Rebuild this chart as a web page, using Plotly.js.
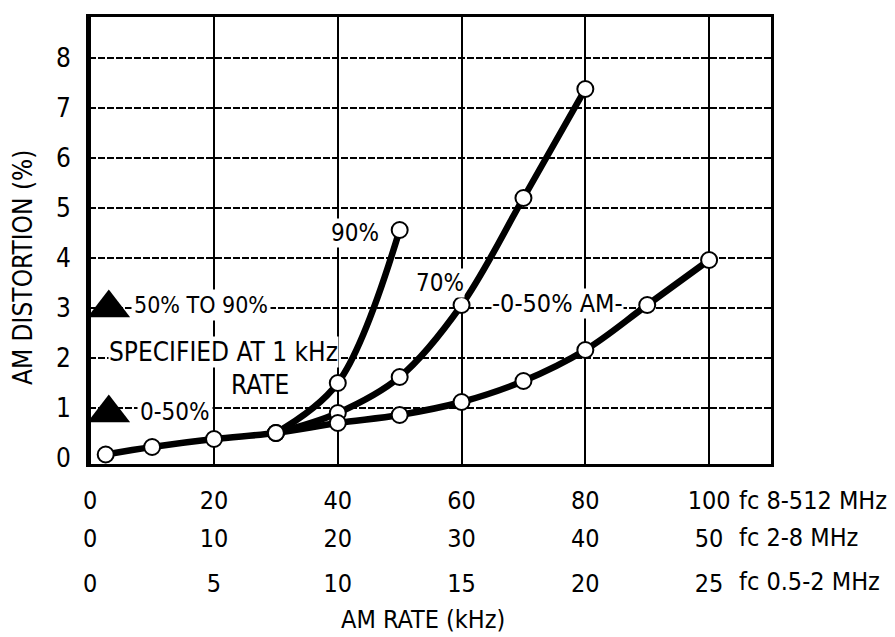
<!DOCTYPE html>
<html><head><meta charset="utf-8">
<script src="https://cdn.plot.ly/plotly-3.0.1.min.js"></script>
<style>html,body{margin:0;padding:0;background:#fff}</style>
</head><body><div id="chart" style="width:895px;height:637px"></div>
<script>
// AM distortion (%) vs AM rate (kHz, fc 8-512 MHz scale)
const am050X = [2.5, 10, 20, 30, 40, 50, 60, 70, 80, 90, 100];
const am050Y = [0.07, 0.22, 0.38, 0.5, 0.7, 0.86, 1.12, 1.54, 2.16, 3.06, 3.96];
const am70X = [30, 40, 50, 60, 70, 80];
const am70Y = [0.5, 0.9, 1.62, 3.06, 5.2, 7.38];
const am90X = [30, 40, 50];
const am90Y = [0.5, 1.5, 4.56];
const specX = [3, 3];
const specY = [3.0, 0.9];
const yTicks = [0, 1, 2, 3, 4, 5, 6, 7, 8];
const yGrid = [1, 2, 3, 4, 5, 6, 7, 8];
const scale1Ticks = [0, 20, 40, 60, 80, 100];
const scale2Ticks = [0, 10, 20, 30, 40, 50];
const scale3Ticks = [0, 5, 10, 15, 20, 25];
const scaleNames = ['fc 8-512 MHz', 'fc 2-8 MHz', 'fc 0.5-2 MHz'];
const curveLabels = ['90%', '70%', '-0-50% AM-'];

const FONT = 'DejaVu Sans Condensed, DejaVu Sans, sans-serif';
const lineStyle = {color: '#000', width: 6.5, shape: 'spline', smoothing: 1};
const markerStyle = {symbol: 'circle', size: 16, color: '#fff', line: {color: '#000', width: 2}};

const traces = [
  {x: am90X, y: am90Y, mode: 'lines+markers', line: lineStyle, marker: markerStyle, cliponaxis: false},
  {x: am70X, y: am70Y, mode: 'lines+markers', line: lineStyle, marker: markerStyle, cliponaxis: false},
  {x: am050X, y: am050Y, mode: 'lines+markers', line: lineStyle, marker: markerStyle, cliponaxis: false},
  {x: specX, y: specY, mode: 'markers', marker: {symbol: 'triangle-up', size: 37, color: '#000'}, cliponaxis: false},
  {x: [null], y: [null], xaxis: 'x2', yaxis: 'y', showlegend: false},
  {x: [null], y: [null], xaxis: 'x3', yaxis: 'y', showlegend: false},
  {x: [null], y: [null], xaxis: 'x', yaxis: 'y2', showlegend: false}
];

const xTickFont = {family: FONT, size: 25, color: '#000'};
const yTickFont = {family: FONT, size: 26, color: '#000'};
const xBase = {
  showgrid: false, zeroline: false, showline: false, ticks: '', tickfont: xTickFont,
  anchor: 'free', overlaying: 'x', tickmode: 'array', fixedrange: true
};

const ann = [];
function addText(text, x, y, xanchor, size, pad) {
  ann.push({text: text, x: x, y: y, xref: 'x', yref: 'y', showarrow: false,
    font: {family: FONT, size: size || 25, color: '#000'}, bgcolor: '#fff', borderpad: pad || 0,
    xanchor: xanchor || 'center', yanchor: 'middle'});
}
addText(curveLabels[0], 42.8, 4.5, 'center', 24);
addText(curveLabels[1], 56.5, 3.5, 'center', 24);
addText(curveLabels[2], 75.5, 3.1, 'center', 25);
addText('50% TO 90%', 6.6, 3.06, 'left', 23, 2);
addText('SPECIFIED AT 1 kHz', 21.5, 2.12, 'center', 26);
addText('RATE', 27.5, 1.46, 'center', 26);
addText('0-50%', 7.5, 0.92, 'left', 24, 2);

const rowY = [500, 537, 581];
rowY.forEach((py, i) => {
  ann.push({text: scaleNames[i], xref: 'paper', yref: 'paper', x: (737 - 89) / 682,
    y: (632 - py) / 615, xanchor: 'left', yanchor: 'middle', showarrow: false, font: xTickFont});
});
ann.push({text: 'AM DISTORTION (%)', xref: 'paper', yref: 'paper', x: (23 - 89) / 682,
  y: (632 - 268) / 615, textangle: -90, showarrow: false, xanchor: 'center', yanchor: 'middle',
  font: {family: FONT, size: 26, color: '#000'}});
ann.push({text: 'AM RATE (kHz)', xref: 'paper', yref: 'paper', x: (423 - 89) / 682,
  y: (632 - 619) / 615, showarrow: false, xanchor: 'center', yanchor: 'middle',
  font: {family: FONT, size: 25, color: '#000'}});

const layout = {
  width: 895, height: 637,
  margin: {l: 89, r: 124, t: 17, b: 5},
  paper_bgcolor: '#fff', plot_bgcolor: '#fff',
  showlegend: false,
  xaxis: {
    range: [-0.2, 110], tickmode: 'array', tickvals: scale1Ticks, ticktext: scale1Ticks.map(String),
    showgrid: true, gridcolor: '#000', gridwidth: 2, zeroline: false,
    showline: true, linecolor: '#000', linewidth: 3, mirror: true,
    ticks: '', ticklabelstandoff: 12, tickfont: xTickFont, fixedrange: true
  },
  xaxis2: Object.assign({}, xBase, {range: [-0.1, 55], tickvals: scale2Ticks, ticktext: scale2Ticks.map(String), position: (632 - 521) / 615}),
  xaxis3: Object.assign({}, xBase, {range: [-0.05, 27.5], tickvals: scale3Ticks, ticktext: scale3Ticks.map(String), position: (632 - 566) / 615}),
  yaxis: {
    domain: [(632 - 464) / 615, 1],
    range: [-0.12, 8.82], tickmode: 'array', tickvals: yTicks, ticktext: yTicks.map(String),
    showgrid: false, zeroline: false,
    showline: true, linecolor: '#000', linewidth: 3, mirror: true,
    ticks: '', ticklabelstandoff: 10, tickfont: yTickFont, fixedrange: true
  },
  yaxis2: {
    overlaying: 'y', range: [-0.12, 8.82], tickmode: 'array', tickvals: yGrid,
    showticklabels: false, showgrid: true, gridcolor: '#000', gridwidth: 1.5, griddash: '7px,2px',
    zeroline: false, showline: false, ticks: '', fixedrange: true
  },
  annotations: ann
};

Plotly.newPlot('chart', traces, layout, {staticPlot: true, displayModeBar: false});
</script></body></html>
